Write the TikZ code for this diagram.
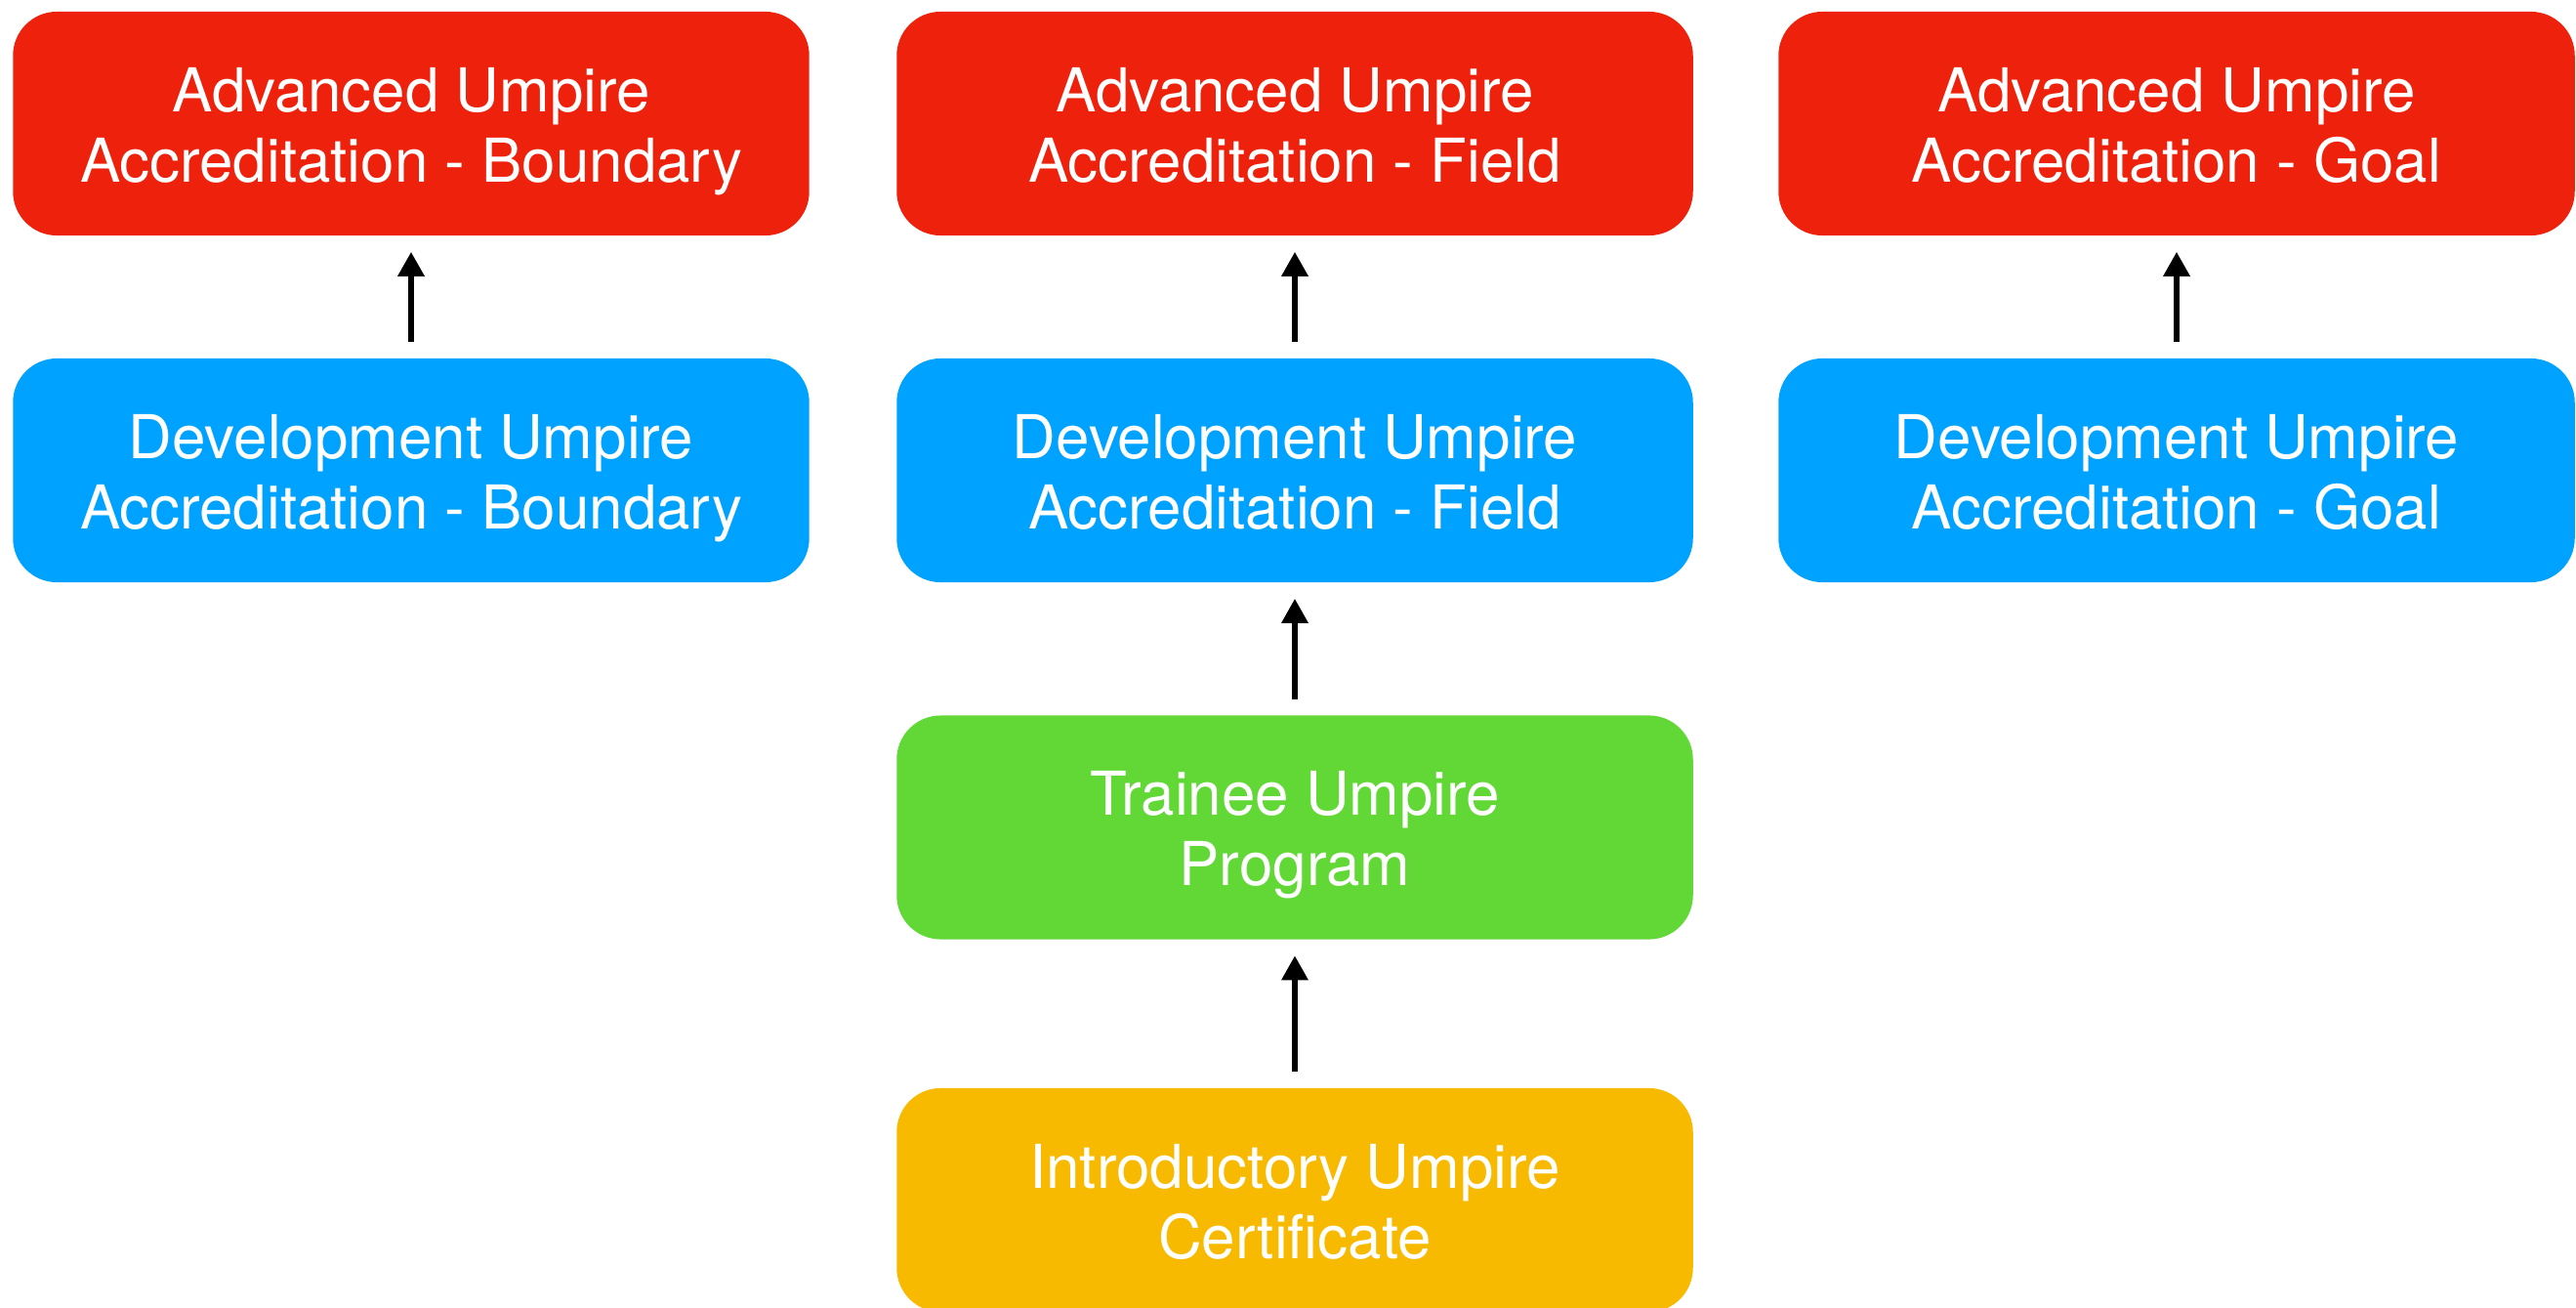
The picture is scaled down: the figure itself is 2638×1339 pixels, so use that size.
\documentclass[tikz,border=0pt]{standalone}
\usepackage{fontspec}
\setmainfont{TeX Gyre Heros}
\usetikzlibrary{arrows.meta}
\definecolor{kred}{HTML}{EE220C}
\definecolor{kblue}{HTML}{00A2FF}
\definecolor{kgreen}{HTML}{61D836}
\definecolor{korange}{HTML}{F8BA00}
\newcommand{\dsc}{\vphantom{y}}
\newcommand{\tpstr}{\rule{0pt}{0.61cm}}
\tikzset{
  box/.style={rectangle, rounded corners=0.45cm, minimum width=8.15cm, minimum height=2.29cm,
    text=white, align=center, inner sep=0pt, font=\fontsize{17.6}{20.5}\selectfont},
  arr/.style={line width=1.7pt, -{Triangle[length=0.25cm,width=0.26cm]}, shorten >=0.16cm, shorten <=0.16cm}
}
\begin{document}
\begin{tikzpicture}[x=0.01cm,y=-0.01cm]
\useasboundingbox (0,0) rectangle (2638,1339);
\node[box, fill=kred] (r1) at (421,126.5) {\tpstr Advanced Umpire\\Accreditation - Boundary\dsc};
\node[box, fill=kred] (r2) at (1326,126.5) {\tpstr Advanced Umpire\\Accreditation - Field\dsc};
\node[box, fill=kred] (r3) at (2229,126.5) {\tpstr Advanced Umpire\\Accreditation - Goal\dsc};
\node[box, fill=kblue] (b1) at (421,481.5) {\tpstr Development Umpire\\Accreditation - Boundary\dsc};
\node[box, fill=kblue] (b2) at (1326,481.5) {\tpstr Development Umpire\\Accreditation - Field\dsc};
\node[box, fill=kblue] (b3) at (2229,481.5) {\tpstr Development Umpire\\Accreditation - Goal\dsc};
\node[box, fill=kgreen] (g) at (1326,847) {\tpstr Trainee Umpire\\Program\dsc};
\node[box, fill=korange] (o) at (1326,1228.5) {\tpstr Introductory Umpire\\Certificate\dsc};
\draw[arr] (b1.north) -- (r1.south);
\draw[arr] (b2.north) -- (r2.south);
\draw[arr] (b3.north) -- (r3.south);
\draw[arr] (g.north) -- (b2.south);
\draw[arr] (o.north) -- (g.south);
\end{tikzpicture}
\end{document}
